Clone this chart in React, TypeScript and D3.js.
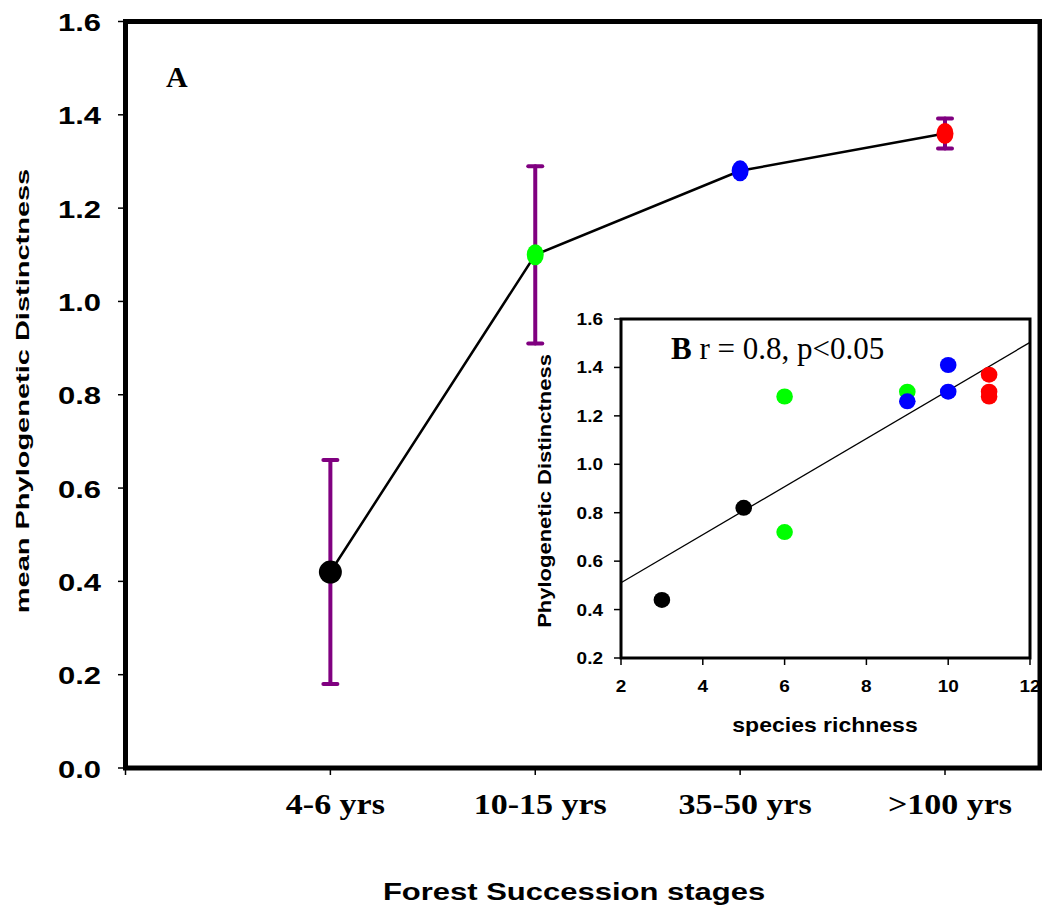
import React from 'react';
import * as d3 from 'd3';

// panel A: mean phylogenetic distinctness per succession stage
const stages = ['4-6 yrs', '10-15 yrs', '35-50 yrs', '>100 yrs'];
const meanPD = [0.42, 1.10, 1.28, 1.36];
const errPD = [0.24, 0.19, 0, 0.032];
const stageColors = ['#000000', '#00ff00', '#0000ff', '#ff0000'];
const yTicksA = [0, 0.2, 0.4, 0.6, 0.8, 1.0, 1.2, 1.4, 1.6];

// panel B: phylogenetic distinctness vs species richness
const richness = [3, 5, 6, 6, 9, 9, 10, 10, 11, 11, 11];
const pdValues = [0.44, 0.82, 1.28, 0.72, 1.30, 1.26, 1.41, 1.30, 1.37, 1.30, 1.28];
const pointStage = [0, 0, 1, 1, 1, 2, 2, 2, 3, 3, 3];
const fitLine = { intercept: 0.312, slope: 0.0993 };
const xTicksB = [2, 4, 6, 8, 10, 12];
const yTicksB = [0.2, 0.4, 0.6, 0.8, 1.0, 1.2, 1.4, 1.6];

const SANS = 'Liberation Sans, Arial, sans-serif';
const SERIF = 'Liberation Serif, Times New Roman, serif';

export default function App() {
  const W = 1042, H = 911;
  // main panel
  const x = d3.scaleLinear().domain([0, 4]).range([125.5, 945]);
  const y = d3.scaleLinear().domain([0, 1.6]).range([768, 21.5]);
  const right = 1040;
  const line = d3.line<number>().x((_, i) => x(i + 1)).y(d => y(d));

  // inset
  const bx = d3.scaleLinear().domain([2, 12]).range([621, 1030]);
  const by = d3.scaleLinear().domain([0.2, 1.6]).range([658, 319]);
  const fx = [2, 12];

  return (
    <div style={{ position: 'absolute', left: 0, top: 0 }}>
      <svg width={W} height={H} viewBox={`0 0 ${W} ${H}`} style={{ display: 'block', background: '#fff' }}>
        {/* y ticks */}
        {yTicksA.map(t => (
          <g key={'ya' + t}>
            <line x1={118} x2={125} y1={y(t)} y2={y(t)} stroke="#000" strokeWidth={1.5} />
            <text transform={`translate(101,${y(t) + 9.5}) scale(1,0.78)`} textAnchor="end"
              fontFamily={SANS} fontWeight="bold" fontSize={31}>{t.toFixed(1)}</text>
          </g>
        ))}
        {/* x ticks */}
        {[0, 1, 2, 3, 4].map(i => (
          <line key={'xa' + i} x1={x(i)} x2={x(i)} y1={768} y2={775} stroke="#000" strokeWidth={1.5} />
        ))}
        {stages.map((s, i) => (
          <text key={s} transform={`translate(${x(i + 1) + 5},814) scale(1,0.87)`} textAnchor="middle"
            fontFamily={SERIF} fontWeight="bold" fontSize={34}>{s}</text>
        ))}
        {/* frame */}
        <rect x={x(0)} y={y(1.6)} width={right - x(0)} height={y(0) - y(1.6)} fill="none" stroke="#000" strokeWidth={5} />

        {/* axis titles */}
        <text transform="translate(574,899.5) scale(1,0.78)" textAnchor="middle"
          fontFamily={SANS} fontWeight="bold" fontSize={31}>Forest Succession stages</text>
        <text transform="translate(29,391) rotate(-90) scale(1,0.65)" textAnchor="middle"
          fontFamily={SANS} fontWeight="bold" fontSize={29}>mean Phylogenetic Distinctness</text>

        <text x={166} y={87} fontFamily={SERIF} fontWeight="bold" fontSize={30}>A</text>

        {/* series line */}
        <path d={line(meanPD) || ''} fill="none" stroke="#000" strokeWidth={2.5} />
        {/* error bars */}
        {meanPD.map((m, i) => errPD[i] > 0 && (
          <g key={'e' + i} stroke="#800080" strokeWidth={4} strokeLinecap="round">
            <line x1={x(i + 1)} x2={x(i + 1)} y1={y(m + errPD[i])} y2={y(m - errPD[i])} />
            <line x1={x(i + 1) - 7} x2={x(i + 1) + 7} y1={y(m + errPD[i])} y2={y(m + errPD[i])} />
            <line x1={x(i + 1) - 7} x2={x(i + 1) + 7} y1={y(m - errPD[i])} y2={y(m - errPD[i])} />
          </g>
        ))}
        {meanPD.map((m, i) => i === 0
          ? <circle key={'m' + i} cx={x(i + 1)} cy={y(m)} r={11.5} fill={stageColors[i]} />
          : <ellipse key={'m' + i} cx={x(i + 1)} cy={y(m)} rx={8.5} ry={10.5} fill={stageColors[i]} />
        )}

        {/* inset B */}
        <rect x={bx(2)} y={by(1.6)} width={bx(12) - bx(2)} height={by(0.2) - by(1.6)} fill="#fff" stroke="#000" strokeWidth={3} />
        {yTicksB.map(t => (
          <g key={'yb' + t}>
            <line x1={614} x2={621} y1={by(t)} y2={by(t)} stroke="#000" strokeWidth={1.5} />
            <text transform={`translate(603,${by(t) + 6}) scale(1,0.88)`} textAnchor="end"
              fontFamily={SANS} fontWeight="bold" fontSize={19}>{t.toFixed(1)}</text>
          </g>
        ))}
        {xTicksB.map(t => (
          <g key={'xb' + t}>
            <line x1={bx(t)} x2={bx(t)} y1={658} y2={665} stroke="#000" strokeWidth={1.5} />
            <text transform={`translate(${bx(t)},692) scale(1,0.88)`} textAnchor="middle"
              fontFamily={SANS} fontWeight="bold" fontSize={19}>{t}</text>
          </g>
        ))}
        <text transform="translate(825,732) scale(1,0.9)" textAnchor="middle"
          fontFamily={SANS} fontWeight="bold" fontSize={23}>species richness</text>
        <text transform="translate(551,491) rotate(-90) scale(1,0.87)" textAnchor="middle"
          fontFamily={SANS} fontWeight="bold" fontSize={22}>Phylogenetic Distinctness</text>

        <line x1={bx(fx[0])} x2={bx(fx[1])}
          y1={by(fitLine.intercept + fitLine.slope * fx[0])} y2={by(fitLine.intercept + fitLine.slope * fx[1])}
          stroke="#000" strokeWidth={1.3} />
        {richness.map((r, i) => (
          <ellipse key={'p' + i} cx={bx(r)} cy={by(pdValues[i])} rx={8.3} ry={8} fill={stageColors[pointStage[i]]} />
        ))}
        <text x={671} y={359} fontFamily={SERIF} fontSize={31}>
          <tspan fontWeight="bold">B</tspan> r = 0.8, p&lt;0.05
        </text>
      </svg>
    </div>
  );
}
